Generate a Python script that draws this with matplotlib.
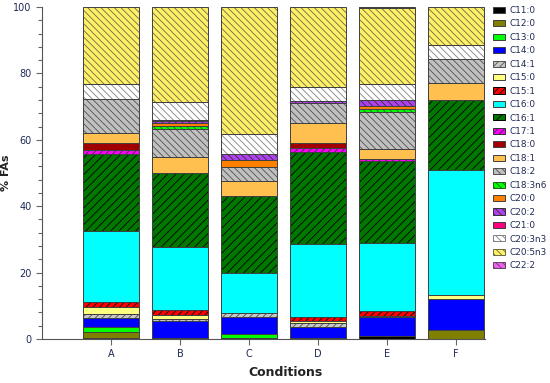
import matplotlib
matplotlib.use("Agg")
import numpy as np
import matplotlib.pyplot as plt
from matplotlib.patches import Patch

plt.rcParams["hatch.linewidth"] = 0.6

conditions = ["A", "B", "C", "D", "E", "F"]

fatty_acids = ["C11:0", "C12:0", "C13:0", "C14:0", "C14:1", "C15:0", "C15:1",
               "C16:0", "C16:1", "C17:1", "C18:0", "C18:1", "C18:2", "C18:3n6",
               "C20:0", "C20:2", "C21:0", "C20:3n3", "C20:5n3", "C22:2"]

# % of total FAs, same order as fatty_acids
cond_A = [0.2, 1.8, 1.7, 2.5, 1.3, 2.2, 1.3, 21.5, 23.2, 1.1, 2.3, 2.8, 10.5, 0, 0, 0, 0, 4.5, 23.1, 0]
cond_B = [0.3, 0, 0, 5.0, 0.7, 1.3, 1.4, 18.9, 22.3, 0, 0, 5.0, 8.5, 0.7, 1.0, 0.5, 0.4, 5.3, 28.7, 0]
cond_C = [0.3, 0, 1.3, 5.0, 1.3, 0, 0, 11.9, 23.4, 0, 0, 4.5, 4.0, 0, 2.2, 1.8, 0, 6.0, 38.3, 0]
cond_D = [0, 0, 0.3, 3.3, 1.2, 0.7, 1.0, 22.0, 27.9, 1.0, 1.7, 6.1, 6.0, 0, 0, 0.6, 0, 4.0, 24.2, 0]
cond_E = [0.8, 0, 0, 5.7, 0, 0.5, 1.3, 20.7, 24.6, 0.7, 0, 2.9, 11.3, 0.7, 1.0, 1.8, 0, 4.8, 22.8, 0.4]
cond_F = [0, 2.7, 0, 9.3, 0, 1.3, 0, 37.6, 21.1, 0, 0, 5.2, 7.0, 0, 0, 0, 0, 4.4, 11.4, 0]

# face colour, hatch, hatch colour
styles = [
    ("#000000", None, "#000000"),
    ("#808000", None, "#404040"),
    ("#00ff00", None, "#404040"),
    ("#0000ff", None, "#404040"),
    ("#c8c8c8", "/////", "#505050"),
    ("#ffff80", None, "#404040"),
    ("#ff0000", "/////", "#000000"),
    ("#00ffff", None, "#404040"),
    ("#007800", "////", "#000000"),
    ("#ff00ff", "/////", "#303030"),
    ("#a00000", None, "#404040"),
    ("#ffc050", None, "#404040"),
    ("#c0c0c0", "\\\\\\\\\\", "#505050"),
    ("#00ff00", "\\\\\\\\\\", "#206020"),
    ("#ff8000", None, "#404040"),
    ("#b040f0", "\\\\\\\\\\", "#303030"),
    ("#ff0080", None, "#404040"),
    ("#ffffff", "\\\\\\\\\\", "#808080"),
    ("#fff066", "\\\\\\\\\\", "#6a6a48"),
    ("#f060f0", "\\\\\\\\\\", "#604060"),
]

data = np.array([cond_A, cond_B, cond_C, cond_D, cond_E, cond_F])
x = np.arange(len(conditions))

fig = plt.figure(figsize=(5.5, 3.83), dpi=100)
ax = fig.add_axes([42 / 550, 1 - 339 / 383, (485 - 42) / 550, (339 - 7) / 383])

bottom = np.zeros(len(conditions))
handles = []
for i, name in enumerate(fatty_acids):
    vals = data[:, i]
    face, hatch, hcol = styles[i]
    m = vals > 0
    if m.any():
        ax.bar(x[m], vals[m], bottom=bottom[m], width=0.8, color=face,
               edgecolor=hcol, linewidth=0, hatch=hatch, zorder=2)
        ax.bar(x[m], vals[m], bottom=bottom[m], width=0.8, fill=False,
               edgecolor="#404040", linewidth=0.7, zorder=3)
    bottom = bottom + vals
    handles.append(Patch(facecolor=face, edgecolor=hcol if hatch else "#404040",
                         hatch=hatch, linewidth=0.7, label=name))

ax.set_xlim(-1.0, 5.42)
ax.set_ylim(0, 100)
ax.set_xticks(x)
ax.set_xticklabels(conditions)
ax.set_yticks(np.arange(0, 101, 20))
ax.set_yticks(np.arange(0, 101, 4), minor=True)

for s in ["top", "right"]:
    ax.spines[s].set_visible(False)
for s in ["left", "bottom"]:
    ax.spines[s].set_color("#555555")
    ax.spines[s].set_linewidth(0.8)

ax.tick_params(axis="both", which="major", labelsize=7, colors="#666666",
               labelcolor="#1f2a55", length=4, width=0.8)
ax.tick_params(axis="y", which="minor", length=3, width=0.8, colors="#666666")
ax.tick_params(axis="x", which="minor", bottom=False)

ax.set_ylabel("% FAs", fontsize=8, fontweight="bold", color="#222222")
ax.set_xlabel("Conditions", fontsize=9, fontweight="bold", color="#222222")
ax.yaxis.set_label_coords(-0.07, 0.5)
ax.xaxis.set_label_coords(0.549, -0.08)

fig.legend(handles=handles, loc="upper left", bbox_to_anchor=(493 / 550, 1 - 6 / 383),
           frameon=False, fontsize=6.4, handlelength=1.4, handleheight=0.68,
           labelspacing=0.5, handletextpad=0.4, borderpad=0, borderaxespad=0,
           labelcolor="#1f2a55")

fig.savefig("out.png", dpi=100)
